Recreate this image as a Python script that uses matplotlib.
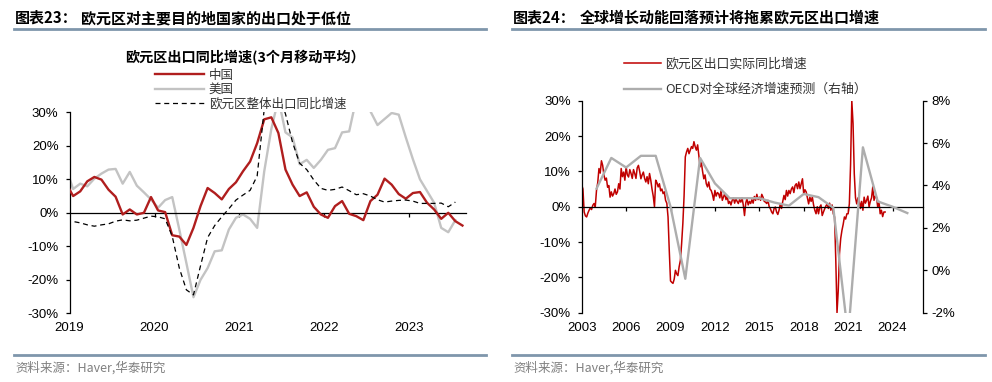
import numpy as np
import matplotlib
matplotlib.use("Agg")
import matplotlib.pyplot as plt
from matplotlib.lines import Line2D

CJK = ['Noto Sans CJK SC', 'DejaVu Sans']
NUM = ['Liberation Sans', 'DejaVu Sans']
plt.rcParams['font.family'] = CJK

# ---- left chart: euro area exports by destination, 3mma yoy (%), Dec 2018 .. Aug 2023
china = [8.8, 5.0, 6.4, 9.4, 10.7, 9.9, 6.9, 4.8, -0.5, 1.0, -0.5, 0.0,
         4.7, 0.7, 0.2, -6.7, -7.1, -9.6, -4.5, 2.0, 7.4, 5.9, 4.0, 7.1,
         9.1, 12.4, 15.3, 20.8, 27.9, 28.5, 23.8, 12.9, 8.4, 5.0, 6.1, 1.8,
         -0.5, -1.5, 2.0, 3.5, -0.3, -1.0, -2.2, 3.5, 5.4, 10.2, 8.4, 5.6,
         4.2, 5.9, 6.2, 3.0, 1.0, -1.8, 0.0, -2.5, -3.8]
usa = [13.3, 7.1, 8.7, 7.9, 10.2, 11.7, 12.9, 13.1, 8.7, 12.2, 8.1, 6.1,
       4.0, 1.5, 3.8, 4.7, -5.0, -15.0, -25.2, -20.0, -16.5, -11.5, -11.2, -5.0,
       -1.5, -0.5, -1.8, -4.5, 12.4, 25.0, 34.0, 24.0, 22.5, 14.5, 15.8, 13.4,
       15.8, 18.8, 19.3, 24.0, 24.3, 34.0, 36.0, 30.3, 26.2, 28.0, 29.8, 29.3,
       22.5, 16.0, 10.0, 6.5, 3.0, -4.5, -5.8, -2.2]
ez_total = [-2.0, -2.6, -3.0, -3.6, -4.0, -3.6, -3.3, -2.5, -2.1, -2.4, -2.2, -1.6,
            -1.0, -1.2, -1.8, -7.0, -16.5, -23.0, -24.5, -15.8, -7.4, -3.8, -1.2, 1.2,
            3.8, 5.3, 6.7, 11.0, 31.0, 38.0, 36.0, 29.5, 21.0, 14.8, 12.9, 9.8,
            7.3, 6.7, 7.0, 7.7, 6.6, 5.4, 5.7, 5.0, 3.9, 3.2, 3.5, 3.7,
            3.8, 3.5, 2.8, 2.8, 2.8, 2.9, 1.8, 3.2]
left_years = [2019, 2020, 2021, 2022, 2023]
left_yticks = [-30, -20, -10, 0, 10, 20, 30]
left_ylabels = ['-30%', '-20%', '-10%', '0%', '10%', '20%', '30%']

# ---- right chart: euro area real exports yoy (%), monthly from Jan 2003
eu_real = [
    6.2, 5.0, -1.5, -2.6, -2.9, -1.8, -1.0, -0.3, -0.8, 0.4, 0.9, 0.0,          # 2003
    4.6, 6.8, 10.8, 9.5, 13.0, 11.7, 9.0, 7.5, 8.1, 5.5, 6.0, 2.7,             # 2004
    4.2, 3.0, 3.7, 5.0, 3.5, 4.2, 6.5, 5.0, 10.8, 8.5, 9.8, 7.5,               # 2005
    11.3, 9.0, 8.4, 10.5, 9.4, 8.0, 10.5, 9.4, 8.0, 11.0, 11.7, 10.0,          # 2006
    7.9, 9.0, 9.8, 8.0, 7.0, 8.5, 6.5, 9.4, 7.5, 5.0, 3.0, 0.0,                # 2007
    7.5, 6.8, 5.6, 6.5, 4.5, 5.0, 3.7, 4.2, 1.8, 1.0, -2.9, -12.4,             # 2008
    -21.0, -21.4, -21.7, -20.5, -18.0, -19.0, -19.5, -17.0, -15.2, -10.5, -4.8, 3.0,  # 2009
    14.1, 15.5, 16.5, 15.0, 16.0, 17.0, 16.5, 18.4, 17.0, 16.0, 17.5, 14.5,    # 2010
    11.3, 12.5, 10.0, 7.9, 9.0, 6.5, 5.6, 7.0, 5.0, 4.6, 3.5, 1.8,             # 2011
    4.6, 3.0, 4.0, 3.7, 2.5, 4.5, 1.8, 2.8, 3.7, 2.0, 3.0, 0.9,                # 2012
    1.5, 0.5, 1.8, 2.5, 1.0, 2.3, 1.5, 0.9, 2.0, 1.3, 2.5, 0.5,                # 2013
    -2.5, 1.0, 2.3, 0.5, 1.5, 0.9, 2.0, 1.0, 2.9, 1.8, 3.5, 2.0,               # 2014
    2.7, 1.8, 3.5, 2.7, 1.5, 1.3, 0.9, 1.8, 0.0, -0.6, -1.5, -2.0,             # 2015
    -0.5, -0.1, -1.5, -2.2, -1.0, 0.8, -0.5, 1.5, 3.2, 2.0, 4.6, 3.0,          # 2016
    4.6, 3.7, 5.0, 5.6, 4.0, 6.0, 6.5, 5.1, 7.0, 5.1, 6.5, 7.9,                # 2017
    3.7, 4.8, 4.2, 2.5, 0.8, 2.7, 1.5, 2.7, 0.5, -1.0, -2.0, 0.0,              # 2018
    -2.0, -0.1, 0.5, -2.5, -1.5, -0.6, 0.2, 0.8, -0.5, 1.0, -1.0, 0.5,         # 2019
    -2.0, -2.9, -15.0, -30.0, -23.7, -13.3, -9.0, -6.7, -5.0, -2.9, -3.5, -2.0,  # 2020
    -2.0, 0.8, 12.0, 30.0, 23.5, 9.3, 2.5, 0.8, 2.5, 1.8, -0.5, 1.5,           # 2021
    -1.0, 2.7, 1.0, 1.8, 3.0, -0.1, 1.5, 2.5, 5.6, 1.8, 3.0, 2.7,              # 2022
    -0.1, 1.5, -2.0, -1.0, -2.8, -1.5, -1.5,                                   # 2023
]
oecd_years = list(range(2004, 2026))
oecd_growth = [3.85, 5.3, 4.85, 5.4, 5.4, 3.0, -0.4, 5.3, 4.1, 3.4, 3.4,
               3.4, 3.2, 3.05, 3.6, 3.45, 2.95, -3.1, 5.8, 3.25, 3.0, 2.7]
right_years = [2003, 2006, 2009, 2012, 2015, 2018, 2021, 2024]
right_yticks2 = [-2, 0, 2, 4, 6, 8]
right_ylabels2 = ['-2%', '0%', '2%', '4%', '6%', '8%']

RED_L = '#B01E1E'
RED_R = '#C00000'
GRAY_L = '#C3C3C3'
GRAY_R = '#ADADAD'
RULE = '#7F96AB'
W, H = 992, 382


def fx(px):
    return px / W


def fy(py):
    return 1 - py / H


def style_axis(ax, xlim, years, tick_years):
    ax.set_xlim(*xlim)
    ax.set_ylim(-30, 30)
    for s in ['top', 'right']:
        ax.spines[s].set_visible(False)
    ax.spines['bottom'].set_position(('data', 0))
    ax.spines['bottom'].set_linewidth(0.9)
    ax.spines['left'].set_linewidth(0.9)
    ax.set_xticks(tick_years)
    ax.tick_params(axis='x', direction='out', length=3, width=0.9, labelbottom=False)
    ax.set_yticks(left_yticks, labels=left_ylabels, fontfamily=NUM, fontsize=9.5)
    ax.tick_params(axis='y', direction='out', length=3, width=0.9, pad=5)
    sec = ax.secondary_xaxis('bottom')
    sec.set_xticks(years, labels=[str(y) for y in years], fontfamily=NUM, fontsize=9.5)
    sec.tick_params(length=0, pad=6.5)
    sec.spines['bottom'].set_visible(False)


fig = plt.figure(figsize=(W / 100, H / 100), dpi=100, facecolor='white')

# left panel
ax1 = fig.add_axes([fx(69.6), fy(313.3), fx(466 - 69.6), 201 / H])
xl = 2019 + (np.arange(len(china)) - 0.5) / 12
l1, = ax1.plot(xl, china, color=RED_L, lw=1.7, zorder=3, label='中国')
l2, = ax1.plot(xl[:len(usa)], usa, color=GRAY_L, lw=1.7, zorder=2, label='美国')
l3, = ax1.plot(xl[:len(ez_total)], ez_total, color='black', lw=0.9,
               ls=(0, (4, 3)), zorder=4, label='欧元区整体出口同比增速')
style_axis(ax1, (2019.0, 2023.667), left_years, left_years[1:])
fig.legend([l1, l2, l3], ['中国', '美国', '欧元区整体出口同比增速'],
           loc='center left', bbox_to_anchor=(fx(155), fy(89.5)), frameon=False,
           fontsize=9.0, handlelength=3.9, handletextpad=0.4, labelspacing=0.12,
           borderpad=0, borderaxespad=0, labelcolor='#333333')
fig.text(fx(245), fy(57.5), '欧元区出口同比增速(3个月移动平均）', ha='center', va='center',
         fontsize=10.2, fontweight='bold')

# right panel
ax3 = fig.add_axes([fx(581.7), fy(312.7), fx(923.3 - 581.7), 212 / H])
xr = 2003 + np.arange(len(eu_real)) / 12
r1, = ax3.plot(xr, eu_real, color=RED_R, lw=1.1, zorder=2)
style_axis(ax3, (2003.0, 2026.08), right_years, right_years[1:])
ax4 = ax3.twinx()
r2, = ax4.plot(oecd_years, oecd_growth, color=GRAY_R, lw=1.7, zorder=3)
ax4.set_ylim(-2, 8)
for s in ['top', 'left', 'bottom']:
    ax4.spines[s].set_visible(False)
ax4.spines['right'].set_linewidth(0.9)
ax4.set_yticks(right_yticks2, labels=right_ylabels2, fontfamily=NUM, fontsize=9.5)
ax4.tick_params(axis='y', direction='out', length=3, width=0.9, pad=3)
fig.legend([r1, r2], ['欧元区出口实际同比增速', 'OECD对全球经济增速预测（右轴）'],
           loc='center left', bbox_to_anchor=(fx(624), fy(77)), frameon=False,
           fontsize=9.3, handlelength=2.9, handletextpad=0.3, labelspacing=0.95,
           borderpad=0, borderaxespad=0, labelcolor='#333333')

# headers, rules and sources
for x0, x1, num, title in [(14, 486, '图表23：', '欧元区对主要目的地国家的出口处于低位'),
                           (512, 985, '图表24：', '全球增长动能回落预计将拖累欧元区出口增速')]:
    fig.text(fx(x0 + 1), fy(18), num, ha='left', va='center', fontsize=10.8, fontweight='bold')
    fig.text(fx(x0 + 67.5), fy(18), title, ha='left', va='center', fontsize=10.8, fontweight='bold')
    fig.add_artist(Line2D([fx(x0), fx(x1)], [fy(29), fy(29)], color=RULE, lw=2.0))
    fig.add_artist(Line2D([fx(x0), fx(x1)], [fy(355), fy(355)], color=RULE, lw=2.0))
    fig.text(fx(x0 + 1), fy(368), '资料来源：Haver,华泰研究', ha='left', va='center',
             fontsize=9, color='#808080')

fig.savefig('out.png', dpi=100, facecolor='white')
